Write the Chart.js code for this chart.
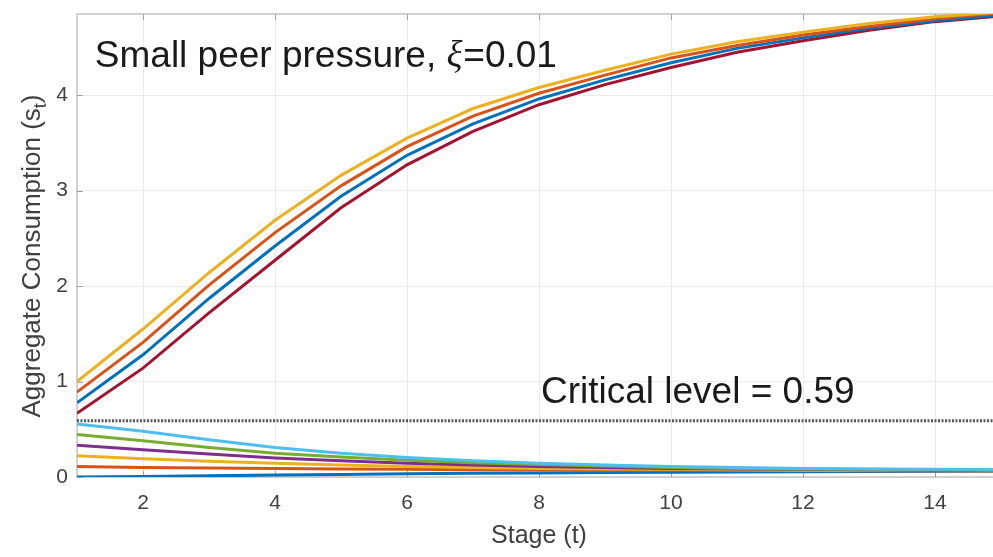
<!DOCTYPE html>
<html><head><meta charset="utf-8">
<script src="https://cdn.jsdelivr.net/npm/chart.js@4.4.1/dist/chart.umd.min.js"></script>
<style>html,body{margin:0;padding:0;overflow:hidden;background:#fff}canvas{display:block}</style>
</head><body>
<canvas id="c" width="1005" height="557"></canvas>
<script>
// ---- data ----
const stages = [1,2,3,4,5,6,7,8,9,10,11,12,13,14,15];
const xTicks = [2,4,6,8,10,12,14];
const yTicks = [0,1,2,3,4];
const criticalLevel = 0.59;

const start000 = [0.000,0.006,0.012,0.020,0.027,0.033,0.038,0.043,0.047,0.050,0.053,0.055,0.057,0.059,0.060];
const start011 = [0.111,0.100,0.095,0.090,0.085,0.080,0.077,0.074,0.072,0.070,0.068,0.067,0.066,0.065,0.064];
const start022 = [0.222,0.190,0.165,0.145,0.125,0.110,0.100,0.090,0.085,0.080,0.075,0.072,0.070,0.068,0.066];
const start033 = [0.333,0.285,0.240,0.200,0.170,0.145,0.125,0.110,0.100,0.090,0.085,0.080,0.075,0.072,0.070];
const start044 = [0.444,0.380,0.310,0.250,0.210,0.175,0.150,0.130,0.115,0.100,0.090,0.085,0.080,0.075,0.072];
const start056 = [0.556,0.480,0.390,0.310,0.250,0.205,0.170,0.145,0.125,0.110,0.100,0.090,0.085,0.080,0.075];
const start067 = [0.667,1.140,1.720,2.270,2.820,3.270,3.620,3.900,4.110,4.290,4.450,4.570,4.680,4.770,4.830];
const start078 = [0.778,1.280,1.870,2.420,2.940,3.370,3.700,3.960,4.160,4.340,4.490,4.600,4.700,4.780,4.840];
const start089 = [0.889,1.410,2.010,2.560,3.050,3.460,3.780,4.020,4.210,4.390,4.520,4.630,4.720,4.800,4.860];
const start100 = [1.000,1.550,2.140,2.690,3.160,3.550,3.860,4.080,4.260,4.430,4.560,4.660,4.750,4.820,4.870];

const seriesValues = [start000,start011,start022,start033,start044,start056,start067,start078,start089,start100];
const seriesColors = ['#0072BD','#D95319','#EDB120','#7E2F8E','#77AC30','#4DBEEE','#A2142F','#0072BD','#D95319','#EDB120'];

const FONT = '"Liberation Sans", Arial, Helvetica, sans-serif';

const datasets = seriesValues.map((vals,i)=>({
  data: stages.map((s,k)=>({x:s,y:vals[k]})),
  borderColor: seriesColors[i],
  borderWidth: 3,
  pointRadius: 0,
  tension: 0,
  fill: false,
  order: seriesValues.length - i
}));
datasets.push({
  data: stages.map(s=>({x:s,y:criticalLevel})),
  borderColor: '#555555',
  borderWidth: 3,
  borderDash: [2,1.5],
  pointRadius: 0,
  fill: false,
  order: 100
});

const frame = {
  id:'frame',
  beforeDatasetsDraw(chart){
    const {ctx, chartArea:a, scales:{x,y}} = chart;
    ctx.save();
    ctx.strokeStyle = '#c4c4c4';
    ctx.lineWidth = 1.5;
    ctx.strokeRect(a.left, a.top, a.right-a.left, a.bottom-a.top);
    ctx.strokeStyle = '#a0a0a0';
    ctx.lineWidth = 1;
    const seg=(x1,y1,x2,y2)=>{ctx.beginPath();ctx.moveTo(x1,y1);ctx.lineTo(x2,y2);ctx.stroke();};
    xTicks.forEach(v=>{const p=Math.round(x.getPixelForValue(v))+0.5; seg(p,a.top,p,a.top+6); seg(p,a.bottom,p,a.bottom-6);});
    yTicks.forEach(v=>{const p=Math.round(y.getPixelForValue(v))+0.5; seg(a.left,p,a.left+6,p); seg(a.right,p,a.right-6,p);});
    ctx.restore();
  },
  afterDraw(chart){
    const {ctx, chartArea:a, scales:{x,y}} = chart;
    ctx.save();
    // annotation 1
    ctx.fillStyle = '#1a1a1a';
    ctx.textBaseline = 'alphabetic';
    ctx.textAlign = 'left';
    let px = x.getPixelForValue(1.27), py = y.getPixelForValue(4.29);
    ctx.font = '37px ' + FONT;
    const p1 = 'Small peer pressure, ';
    ctx.fillText(p1, px, py); px += ctx.measureText(p1).width;
    ctx.font = 'italic 37px "Liberation Serif", "Times New Roman", serif';
    ctx.fillText('\u03BE', px, py); px += ctx.measureText('\u03BE').width + 1;
    ctx.font = '37px ' + FONT;
    ctx.fillText('=0.01', px, py);
    // annotation 2
    ctx.font = '37px ' + FONT;
    ctx.fillText('Critical level = 0.59', x.getPixelForValue(8.03), y.getPixelForValue(0.775));
    // x title
    ctx.fillStyle = '#404040';
    ctx.textAlign = 'center';
    ctx.font = '25px ' + FONT;
    ctx.fillText('Stage (t)', (a.left+a.right)/2, 543);
    // y title with subscript
    ctx.translate(33, 256);
    ctx.rotate(-Math.PI/2);
    ctx.textAlign = 'left';
    ctx.textBaseline = 'middle';
    const m1 = 'Aggregate Consumption (s', sub='t', m2=')';
    ctx.font = '26px ' + FONT; const w1 = ctx.measureText(m1).width, w3 = ctx.measureText(m2).width;
    ctx.font = '18px ' + FONT; const w2 = ctx.measureText(sub).width;
    let sx = -(w1+w2+w3)/2;
    ctx.font = '26px ' + FONT; ctx.fillText(m1, sx, 0); sx += w1;
    ctx.font = '18px ' + FONT; ctx.fillText(sub, sx, 8); sx += w2;
    ctx.font = '26px ' + FONT; ctx.fillText(m2, sx, 0);
    ctx.restore();
  }
};

new Chart(document.getElementById('c'), {
  type: 'line',
  data: { datasets },
  options: {
    responsive: false,
    animation: false,
    devicePixelRatio: 1,
    layout: { padding: { top: 14, right: 4, left: 0, bottom: 0 } },
    plugins: { legend: { display: false }, tooltip: { enabled: false } },
    scales: {
      x: {
        type: 'linear', min: 1, max: 15,
        afterFit: s => { s.height = 80; s.paddingLeft = 0; s.paddingRight = 0; },
        afterBuildTicks: s => { s.ticks = xTicks.map(v=>({value:v})); },
        grid: { color: '#ebebeb', lineWidth: 1, drawTicks: false },
        border: { display: false },
        ticks: { color: '#404040', font: { family: FONT, size: 21 }, padding: 14, maxRotation: 0 }
      },
      y: {
        type: 'linear', min: 0, max: 4.85,
        afterFit: s => { s.width = 77; s.paddingTop = 0; s.paddingBottom = 0; },
        afterBuildTicks: s => { s.ticks = yTicks.map(v=>({value:v})); },
        grid: { color: '#ebebeb', lineWidth: 1, drawTicks: false },
        border: { display: false },
        ticks: { color: '#404040', font: { family: FONT, size: 21 }, padding: 9 }
      }
    }
  },
  plugins: [frame]
});
</script>
</body></html>
